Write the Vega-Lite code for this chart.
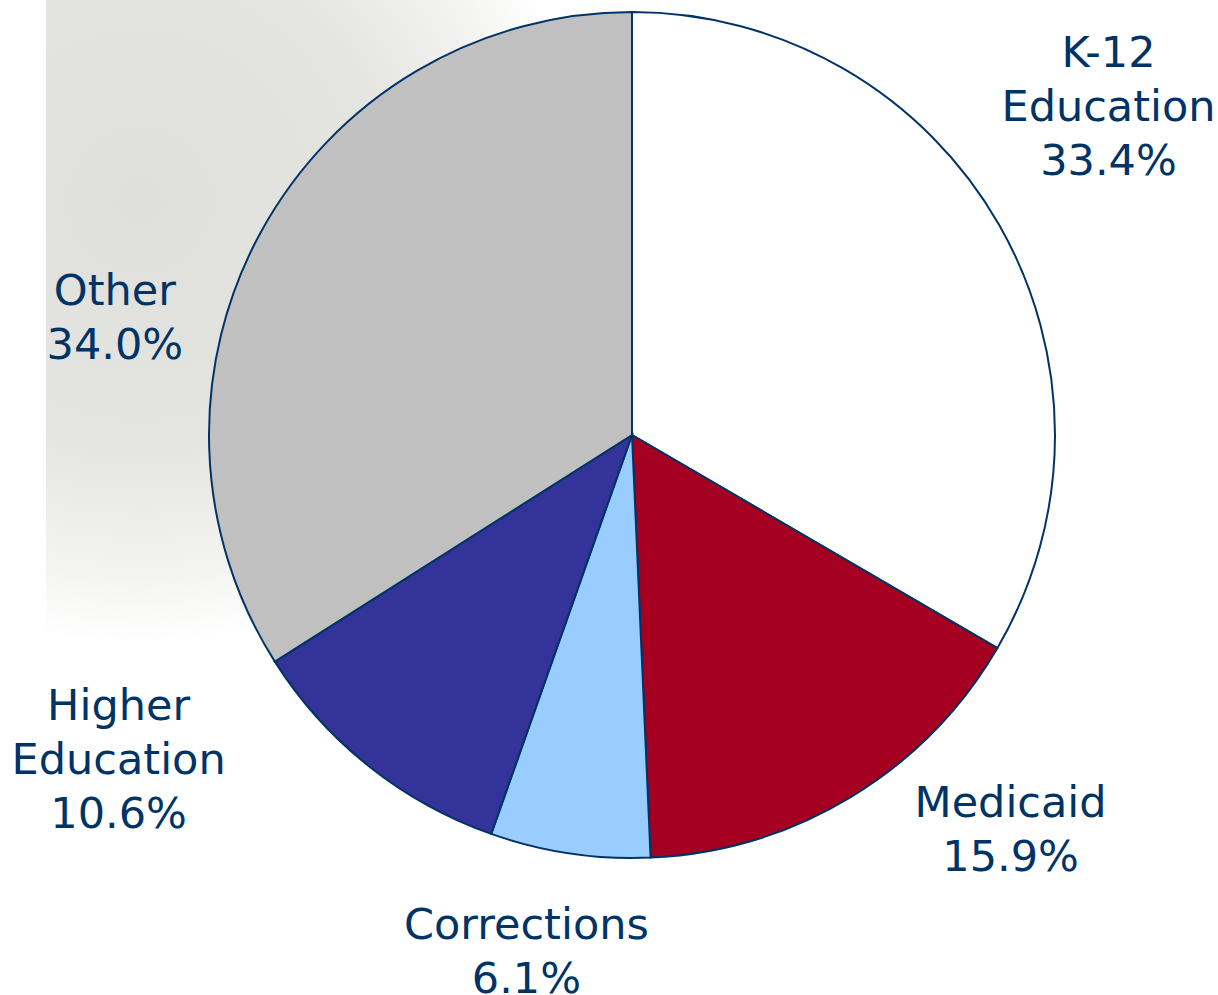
{
  "$schema": "https://vega.github.io/schema/vega-lite/v6.json",
  "width": 1172,
  "height": 870,
  "autosize": "none",
  "padding": {"left": 46, "top": 0, "right": 0, "bottom": 125},
  "background": "#ffffff",
  "config": {"view": {"stroke": null}},
  "data": {
    "values": [
      {"category": "K-12 Education", "value": 33.4, "order": 1, "label": "K-12\nEducation\n33.4%"},
      {"category": "Medicaid", "value": 15.9, "order": 2, "label": "Medicaid\n15.9%"},
      {"category": "Corrections", "value": 6.1, "order": 3, "label": "Corrections\n6.1%"},
      {"category": "Higher Education", "value": 10.6, "order": 4, "label": "Higher\nEducation\n10.6%"},
      {"category": "Other", "value": 34.0, "order": 5, "label": "Other\n34.0%"}
    ]
  },
  "layer": [
    {
      "data": {"values": [{}]},
      "mark": {
        "type": "rect",
        "fill": {
          "gradient": "radial",
          "x1": 0.08, "y1": 0.3, "r1": 0,
          "x2": 0.08, "y2": 0.3, "r2": 0.38,
          "stops": [
            {"offset": 0, "color": "#dfdfdc"},
            {"offset": 0.55, "color": "#e4e4e1"},
            {"offset": 0.85, "color": "#f4f4f2"},
            {"offset": 1, "color": "#ffffff"}
          ]
        }
      },
      "encoding": {
        "x": {"value": 0},
        "x2": {"value": "width"},
        "y": {"value": 0},
        "y2": {"value": "height"}
      }
    },
    {
      "mark": {"type": "arc", "radius": 423, "stroke": "#003366", "strokeWidth": 2},
      "encoding": {
        "theta": {"field": "value", "type": "quantitative", "stack": true},
        "order": {"field": "order", "type": "quantitative"},
        "color": {
          "field": "category",
          "type": "nominal",
          "scale": {
            "domain": ["K-12 Education", "Medicaid", "Corrections", "Higher Education", "Other"],
            "range": ["#ffffff", "#a50021", "#99ccff", "#333399", "#c0c0c0"]
          },
          "legend": null
        }
      }
    },
    {
      "mark": {
        "type": "text",
        "radius": 500,
        "font": "DejaVu Sans",
        "fontSize": 43,
        "fill": "#003366",
        "align": "center",
        "baseline": "middle",
        "lineBreak": "\n",
        "lineHeight": 54,
        "dx": {"expr": "datum.order == 1 ? 43 : datum.order == 2 ? 120 : datum.order == 3 ? -32 : datum.order == 4 ? -202 : -79"},
        "dy": {"expr": "datum.order == 1 ? -132 : datum.order == 2 ? -59 : datum.order == 3 ? -4 : datum.order == 4 ? -119 : 98"}
      },
      "encoding": {
        "theta": {"field": "value", "type": "quantitative", "stack": true},
        "order": {"field": "order", "type": "quantitative"},
        "text": {"field": "label", "type": "nominal"}
      }
    }
  ]
}
